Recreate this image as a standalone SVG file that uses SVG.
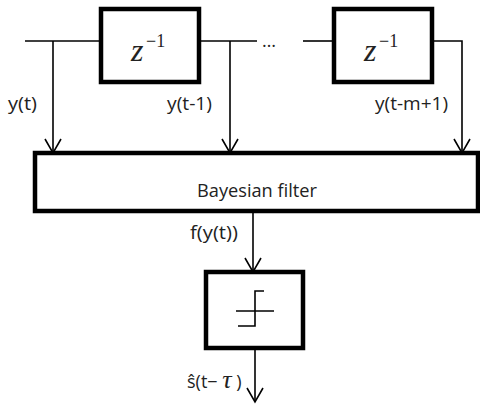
<svg xmlns="http://www.w3.org/2000/svg" width="480" height="406" viewBox="0 0 480 406">
<style>
.ln{stroke:#000;stroke-width:1.6;fill:none}
.box{stroke:#000;stroke-width:4.5;fill:#fff}
.lbl{font-family:"Open Sans","DejaVu Sans",sans-serif;font-size:18px;fill:#222}
.z{font-family:"Liberation Serif",serif;font-style:italic;font-size:32px;fill:#222}
.sup{font-family:"Liberation Serif",serif;font-size:18px;fill:#222}
</style>
<defs>
<marker id="arr" markerWidth="20" markerHeight="20" refX="17" refY="10" orient="auto" markerUnits="userSpaceOnUse" viewBox="0 0 20 20">
<path d="M3,2 L17,10 L3,18" fill="none" stroke="#000" stroke-width="1.6"/>
</marker>
</defs>
<g id="connectors">
<line class="ln" x1="25" y1="41" x2="101" y2="41"/>
<line class="ln" x1="53" y1="41" x2="53" y2="153" marker-end="url(#arr)"/>
<line class="ln" x1="199" y1="41" x2="257" y2="41"/>
<line class="ln" x1="230" y1="41" x2="230" y2="153" marker-end="url(#arr)"/>
<line class="ln" x1="303" y1="41" x2="334" y2="41"/>
<polyline class="ln" points="432,41 462,41 462,153" marker-end="url(#arr)"/>
<line class="ln" x1="253" y1="211" x2="253" y2="272" marker-end="url(#arr)"/>
<line class="ln" x1="255" y1="348" x2="255" y2="402" marker-end="url(#arr)"/>
<text class="lbl" x="262" y="47" font-size="15">…</text>
<text class="lbl" x="8" y="110" textLength="29" lengthAdjust="spacingAndGlyphs">y(t)</text>
<text class="lbl" x="167" y="110" textLength="45" lengthAdjust="spacingAndGlyphs">y(t-1)</text>
<text class="lbl" x="375" y="110" textLength="73" lengthAdjust="spacingAndGlyphs">y(t-m+1)</text>
<text class="lbl" x="190" y="239" textLength="48" lengthAdjust="spacingAndGlyphs">f(y(t))</text>
<text class="lbl" x="187" y="388">ŝ(t− <tspan font-family="Liberation Serif,serif" font-style="italic" font-size="26">τ</tspan> )</text>
</g>
<g id="delay1">
<rect class="box" x="101" y="9" width="98" height="73"/>
<text class="z" x="131" y="61">z</text><text class="sup" x="146" y="47">−1</text>
</g>
<g id="delay2">
<rect class="box" x="334" y="9" width="98" height="73"/>
<text class="z" x="364" y="61">z</text><text class="sup" x="379" y="47">−1</text>
</g>
<g id="bayesian">
<rect class="box" x="35" y="153" width="443" height="58"/>
<text class="lbl" x="197" y="197" textLength="120" lengthAdjust="spacingAndGlyphs">Bayesian filter</text>
</g>
<g id="threshold">
<rect class="box" x="206" y="272" width="97" height="76"/>
<line class="ln" x1="236" y1="311" x2="274" y2="311"/>
<polyline class="ln" points="238,326 255,326 255,291 264,291"/>
</g>
</svg>
